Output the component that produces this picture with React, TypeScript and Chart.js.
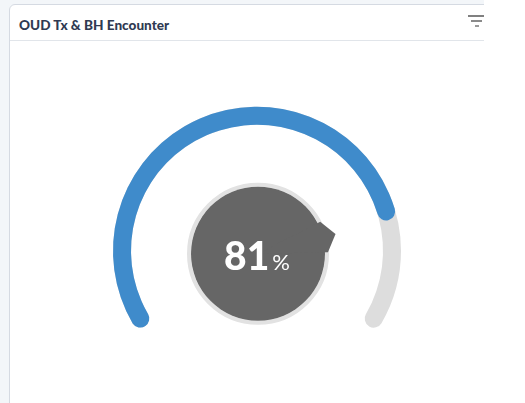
import React, { useEffect, useRef } from "react";
import { Chart, registerables } from "chart.js";

Chart.register(...registerables);

// ---- data ----
const title = "OUD Tx & BH Encounter";
const categories = ["Met", "Remaining"];
const values = [81, 19];
const trackCategories = ["Track"];
const trackValues = [100];
const unitLabel = "%";

const BLUE = "#3f8bcb";
const TRACK = "#dddddd";
const BUBBLE = "#666666";
const BUBBLE_BORDER = "#e2e2e2";

const ROTATION = -124;
const CIRCUMFERENCE = 248;
const RADIUS = 144;
const CUTOUT = "87.5%";
const CAP = 9;

const NUM_FONT = "900 39px Lato";
const UNIT_FONT = "22px Lato";

const bubblePlugin = {
  id: "centerBubble",
  afterDatasetsDraw(chart: any) {
    const arc = chart.getDatasetMeta(0).data[0];
    if (!arc) return;
    const { x, y, endAngle } = arc.getProps(["x", "y", "endAngle"], true);
    const ctx = chart.ctx as CanvasRenderingContext2D;
    const cx = x + 1;
    const cy = y + 3;
    const r = 67;
    ctx.save();
    // light border ring
    ctx.beginPath();
    ctx.arc(cx, cy, r + 2, 0, Math.PI * 2);
    ctx.lineWidth = 4;
    ctx.strokeStyle = BUBBLE_BORDER;
    ctx.stroke();
    // dark disc
    ctx.beginPath();
    ctx.arc(cx, cy, r, 0, Math.PI * 2);
    ctx.fillStyle = BUBBLE;
    ctx.fill();
    // pointer toward value end
    const a = endAngle - 0.02;
    const spread = (13 * Math.PI) / 180;
    ctx.beginPath();
    ctx.moveTo(cx, cy);
    ctx.lineTo(cx + (r + 3) * Math.cos(a - spread), cy + (r + 3) * Math.sin(a - spread));
    ctx.lineTo(cx + 80 * Math.cos(a), cy + 80 * Math.sin(a));
    ctx.lineTo(cx + (r + 3) * Math.cos(a + spread), cy + (r + 3) * Math.sin(a + spread));
    ctx.closePath();
    ctx.fillStyle = BUBBLE;
    ctx.fill();
    // text
    const label = String(chart.data.datasets[0].data[0]);
    ctx.fillStyle = "#ffffff";
    ctx.textBaseline = "alphabetic";
    ctx.textAlign = "left";
    ctx.font = NUM_FONT;
    const w1 = ctx.measureText(label).width;
    ctx.font = UNIT_FONT;
    const w2 = ctx.measureText(unitLabel).width;
    const gap = 3;
    const total = w1 + gap + w2;
    const sx = cx - 1 - total / 2;
    const base = cy + 16;
    ctx.font = NUM_FONT;
    ctx.fillText(label, sx, base);
    ctx.font = UNIT_FONT;
    ctx.fillText(unitLabel, sx + w1 + gap, base);
    ctx.restore();
  },
};

const baseOptions: any = {
  animation: false,
  responsive: false,
  rotation: ROTATION,
  circumference: CIRCUMFERENCE,
  radius: RADIUS,
  cutout: CUTOUT,
  layout: { padding: 0 },
  events: [],
  plugins: { legend: { display: false }, tooltip: { enabled: false }, title: { display: false } },
};

export default function App() {
  const trackRef = useRef<HTMLCanvasElement | null>(null);
  const valueRef = useRef<HTMLCanvasElement | null>(null);

  useEffect(() => {
    const track = new Chart(trackRef.current as HTMLCanvasElement, {
      type: "doughnut",
      data: {
        labels: trackCategories,
        datasets: [{ data: trackValues, backgroundColor: [TRACK], borderWidth: 0, borderRadius: CAP } as any],
      },
      options: baseOptions,
    });
    const value = new Chart(valueRef.current as HTMLCanvasElement, {
      type: "doughnut",
      data: {
        labels: categories,
        datasets: [{ data: values, backgroundColor: [BLUE, "rgba(0,0,0,0)"], borderWidth: 0, borderRadius: CAP } as any],
      },
      options: baseOptions,
      plugins: [bubblePlugin as any],
    });
    return () => {
      track.destroy();
      value.destroy();
    };
  }, []);

  const line = (top: number, left: number, width: number, color: string) => (
    <div style={{ position: "absolute", top, left, width, height: 2, background: color }} />
  );

  return (
    <div style={{ position: "absolute", left: 0, top: 0, width: 525, height: 403, background: "#ffffff", overflow: "hidden" }}>
      <div style={{ position: "absolute", left: 0, top: 0, width: 484, height: 403, background: "#f3f6f9", overflow: "hidden" }}>
        <div
          style={{
            position: "absolute",
            left: 9,
            top: 4,
            width: 540,
            height: 440,
            background: "#ffffff",
            border: "1px solid #d5dae2",
            borderRadius: 6,
            boxSizing: "border-box",
          }}
        />
        <div
          style={{
            position: "absolute",
            left: 19,
            top: 17,
            fontFamily: "Lato",
            fontWeight: 900,
            fontSize: 13.6,
            lineHeight: "16px",
            color: "#2f3a52",
            whiteSpace: "nowrap",
          }}
        >
          {title}
        </div>
        <div style={{ position: "absolute", left: 10, top: 40, width: 480, height: 1, background: "#e1e5ea" }} />
        {line(15, 468, 20, "#808080")}
        {line(20, 471, 11, "#8a8a8a")}
        {line(25, 475, 4, "#9a9a9a")}
        <div style={{ position: "absolute", left: 57, top: 61, width: 400, height: 316 }}>
          <canvas ref={trackRef} width={400} height={316} style={{ position: "absolute", left: 0, top: 0 }} />
          <canvas ref={valueRef} width={400} height={316} style={{ position: "absolute", left: 0, top: 0 }} />
        </div>
      </div>
    </div>
  );
}
